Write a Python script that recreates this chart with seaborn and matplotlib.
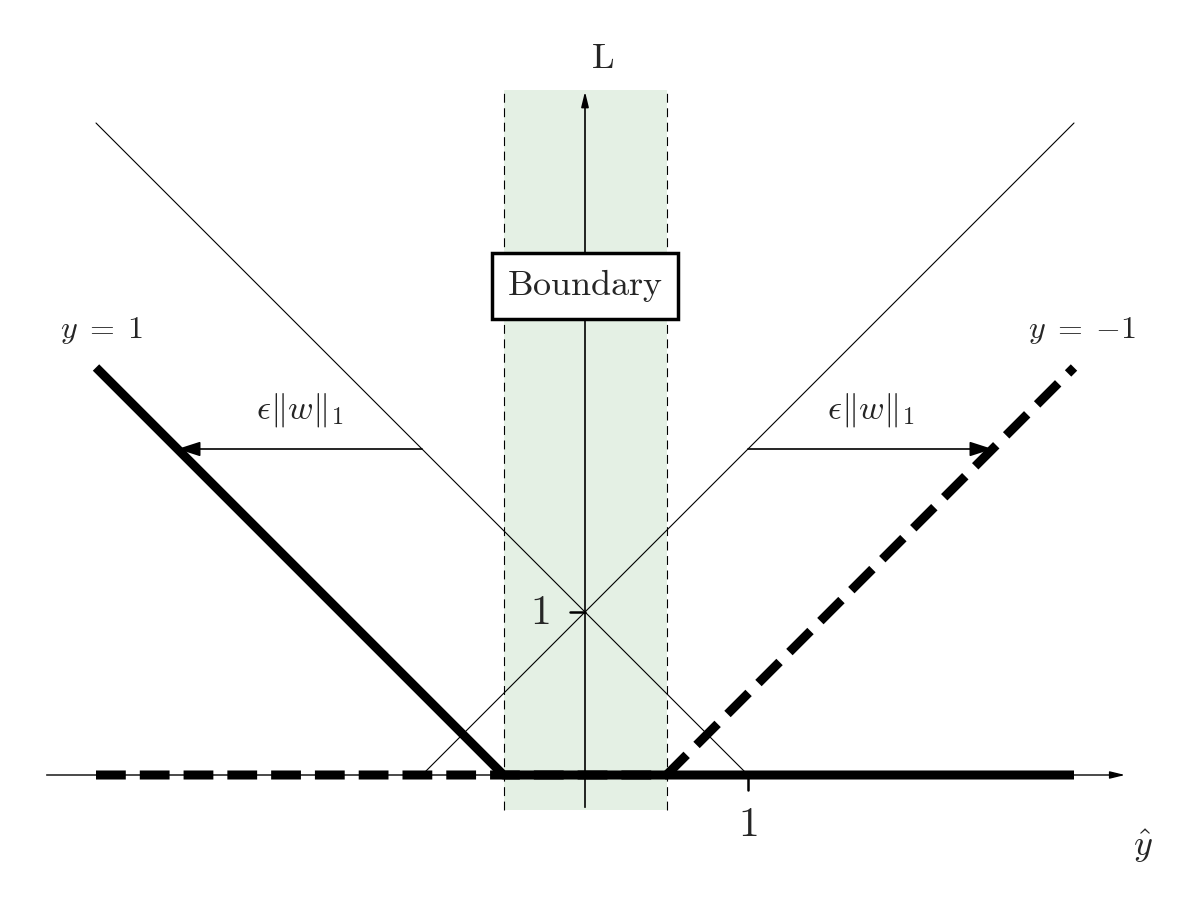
import matplotlib
matplotlib.use('Agg')
import matplotlib.pyplot as plt
import seaborn as sns

sns.set_style('white')
plt.rcParams['mathtext.fontset'] = 'cm'
plt.rcParams['font.family'] = ['DejaVu Serif']

# margin shift eps*||w||_1
eps = 0.5

# plain hinge losses (thin lines)
hinge_pos_x = [-3, 1]
hinge_pos_y = [4, 0]
hinge_neg_x = [-1, 3]
hinge_neg_y = [0, 4]

# shifted robust losses (thick lines)
robust_pos_x = [-3, -0.5, 3]
robust_pos_y = [2.5, 0, 0]
robust_neg_x = [-3, 0.5, 3]
robust_neg_y = [0, 0, 2.5]

# arrows showing the shift, at L = 2
arrow_level = 2
arrow_left = (-1, -2.5)
arrow_right = (1, 2.5)

fig = plt.figure(figsize=(12, 9), dpi=100)
ax = fig.add_axes([0, 0, 1, 1])
ax.set_xlim(-585 / 163, 615 / 163)
ax.set_ylim(-125 / 163, 775 / 163)
ax.axis('off')

# shaded boundary band
ax.axvspan(-eps, eps, ymin=(125 - 35) / 900, ymax=(900 - 90) / 900,
           color='#e4f0e4', lw=0, zorder=0)
for xv in (-eps, eps):
    ax.plot([xv, xv], [-0.215, 4.2], color='black', lw=0.8,
            dashes=(8, 5), zorder=1)

# axes with arrows
ax.annotate('', xy=(3.33, 0), xytext=(-3.32, 0),
            arrowprops=dict(arrowstyle='-|>,head_length=0.9,head_width=0.22',
                            color='black', lw=1.0), zorder=2)
ax.annotate('', xy=(0, 4.21), xytext=(0, -0.215),
            arrowprops=dict(arrowstyle='-|>,head_length=0.9,head_width=0.22',
                            color='black', lw=1.2), zorder=2)

# thin hinge lines
sns.lineplot(x=hinge_pos_x, y=hinge_pos_y, ax=ax, color='black', lw=0.8,
             estimator=None, sort=False, zorder=2)
sns.lineplot(x=hinge_neg_x, y=hinge_neg_y, ax=ax, color='black', lw=0.8,
             estimator=None, sort=False, zorder=2)

# thick robust lines
sns.lineplot(x=robust_neg_x, y=robust_neg_y, ax=ax, color='black', lw=6.5,
             estimator=None, sort=False, zorder=3,
             dashes=False).lines[-1].set_dashes((3.3, 1.55))
ax.lines[-1].set_dash_capstyle('butt')
sns.lineplot(x=robust_pos_x, y=robust_pos_y, ax=ax, color='black', lw=6.5,
             estimator=None, sort=False, zorder=4)
ax.lines[-1].set_solid_capstyle('butt')

# ticks
ax.plot([1, 1], [0, -15 / 163], color='black', lw=1.8, zorder=3)
ax.plot([0, -15 / 163], [1, 1], color='black', lw=1.8, zorder=3)
ax.text(1, -0.17, '$1$', fontsize=30, ha='center', va='top')
ax.text(-0.22, 1, '$1$', fontsize=30, ha='right', va='center')

# shift arrows
for x0, x1 in (arrow_left, arrow_right):
    ax.annotate('', xy=(x1, arrow_level), xytext=(x0, arrow_level),
                arrowprops=dict(arrowstyle='-|>,head_length=1.4,head_width=0.45',
                                color='black', lw=1.2, shrinkA=0, shrinkB=0),
                zorder=5)
    ax.text((x0 + x1) / 2, arrow_level + 0.12, r'$\epsilon\|w\|_1$',
            fontsize=25, ha='center', va='bottom')

# labels
ax.text(-2.97, 2.73, r'$y\;=\;1$', fontsize=23, ha='center', va='center')
ax.text(3.05, 2.73, r'$y\;=\;{-}1$', fontsize=23, ha='center', va='center')
ax.text(0.11, 4.4, r'$\mathrm{L}$', fontsize=26, ha='center', va='center')
ax.text(3.42, -0.44, r'$\hat{y}$', fontsize=26, ha='center', va='center')
ax.text(0, 3.0, r'$\mathrm{Boundary}$', fontsize=26, ha='center', va='center',
        zorder=6,
        bbox=dict(boxstyle='square,pad=0.4', fc='white', ec='black', lw=2.5))

fig.savefig('out.png', dpi=100)
